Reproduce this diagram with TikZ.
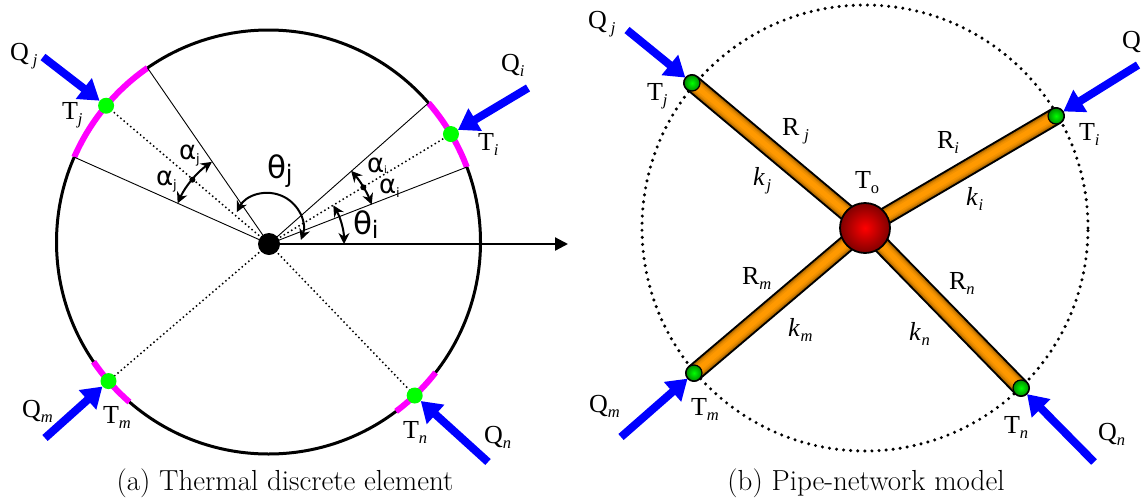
\documentclass[tikz,border=0pt]{standalone}
\usepackage{fontspec}
\usetikzlibrary{arrows.meta,calc}
\newfontfamily\timesf{Liberation Serif}
\newfontfamily\sansf{DejaVu Sans}
\definecolor{pipeorange}{RGB}{255,153,0}
\definecolor{magarccol}{RGB}{255,0,255}
\definecolor{gdotcol}{RGB}{0,255,0}
\newcommand\lab[3][0pt]{{\timesf\fontsize{26}{26}\selectfont #2\hspace{#1}\raisebox{-5pt}{\fontsize{16.5}{16.5}\selectfont\itshape #3}}}
\newcommand\labup[2]{{\timesf\fontsize{26}{26}\selectfont #1\raisebox{-5pt}{\fontsize{16.5}{16.5}\selectfont #2}}}
\newcommand\klab[3][1pt]{{\timesf\fontsize{26}{26}\selectfont\itshape #2\hspace{#1}\raisebox{-5pt}{\fontsize{16.5}{16.5}\selectfont #3}}}
\newcommand\glab[3]{{\sansf\fontsize{#1}{#1}\selectfont #2\raisebox{-4pt}{\fontsize{#3}{#3}\selectfont j}}}
\newcommand\gilab[4][-4pt]{{\sansf\fontsize{#2}{#2}\selectfont #3\raisebox{#1}{\fontsize{#4}{#4}\selectfont i}}}
\newcommand\pipe[2]{%
  \draw[line width=18pt,black,line cap=round] (#1) -- (#2);
  \foreach \w/\c in {14/pipeorange!70!black,12/pipeorange!80!black,10/pipeorange!90!black,8/pipeorange!95!black,5/pipeorange} {
    \draw[line width=\w pt,\c] (#1) -- (#2);
  }%
}
\tikzset{
  x=1pt,y=1pt,
  lbl/.style={anchor=base west,inner sep=0pt,outer sep=0pt,text=black},
  heatflow/.style={blue,line width=8pt,-{Triangle[length=20pt,width=25pt]}},
  rim/.style={black,line width=3pt},
  magarc/.style={magarccol,line width=6pt},
  fine/.style={black,line width=0.9pt},
  spoke/.style={black,line width=1.5pt,dash pattern=on 1.5pt off 2.8pt},
  ringdots/.style={black,line width=3.4pt,line cap=round,dash pattern=on 0pt off 7.1pt},
  axisline/.style={black,line width=2.2pt,-{Triangle[length=13pt,width=13pt]}},
  anglearc/.style={black,line width=2pt,{Stealth[length=11pt,width=11pt]}-{Stealth[length=11pt,width=11pt]}},
  gdot/.style={circle,fill=gdotcol,inner sep=0pt,minimum size=16pt},
  gball/.style={circle,draw=black,line width=1.2pt,inner sep=0pt,minimum size=16pt,shading=radial,inner color=gdotcol,outer color=gdotcol!55!black},
  rball/.style={circle,draw=black,line width=1.8pt,inner sep=0pt,minimum size=50pt,shading=radial,inner color=red,outer color=red!50!black},
  smalldot/.style={circle,fill=black,inner sep=0pt,minimum size=6pt},
  captext/.style={anchor=base,inner sep=0pt,font=\fontsize{29}{29}\selectfont}
}
\begin{document}
\begin{tikzpicture}
\useasboundingbox (0,0) rectangle (1142,-501);
% ---------- left panel
\coordinate (cc) at (268.5,-242);
\coordinate (oc) at (269,-244);
\coordinate (axisend) at (568,-244);
\draw[rim] (cc) circle[radius=212];
\foreach \nm/\a/\b/\g in {j/124.8/156.4/140, i/41/20.7/30.6, m/214.4/229/221, n/-38/-53/-46.4} {
  \coordinate (a\nm) at ($(cc)+(\a:212)$);
  \coordinate (b\nm) at ($(cc)+(\b:212)$);
  \coordinate (g\nm) at ($(cc)+(\g:212)$);
  \draw[magarc] (a\nm) arc[start angle=\a,end angle=\b,radius=212];
}
\draw[fine] (oc) -- (aj);
\draw[fine] (oc) -- (bj);
\draw[fine] (oc) -- (ai);
\draw[fine] (oc) -- (bi);
\foreach \nm in {j,i,m,n} { \draw[spoke] (oc) -- (g\nm); }
\foreach \nm in {j,i,m,n} { \node[gdot] (tl\nm) at (g\nm) {}; }
\draw[axisline] (oc) -- (axisend);
\node[circle,fill=black,inner sep=0pt,minimum size=22pt] (o) at (oc) {};
% angle arcs
\coordinate (arcJ) at ($(oc)+(124.8:100)$);
\draw[anglearc] (arcJ) arc[start angle=124.8,end angle=156,radius=100];
\node[smalldot] (dj) at ($(oc)+(140:100)$) {};
\coordinate (arcI) at ($(oc)+(41.7:110)$);
\draw[anglearc] (arcI) arc[start angle=41.7,end angle=21,radius=110];
\node[smalldot] (di) at ($(oc)+(31:110)$) {};
\coordinate (arcTi) at ($(oc)+(31:75)$);
\draw[anglearc] (arcTi) arc[start angle=31,end angle=0,radius=75];
\coordinate (tjc) at (268,-228);
\coordinate (arcTj) at ($(tjc)+(153:35)$);
\draw[anglearc] (arcTj) arc[start angle=153,end angle=-20,radius=35];
% heat arrows left
\coordinate (qlj) at (43,-57);
\coordinate (qli) at (528,-88);
\coordinate (qlm) at (45,-438);
\coordinate (qln) at (488,-462);
\draw[heatflow] (qlj) -- (tlj);
\draw[heatflow] (qli) -- (tli);
\draw[heatflow] (qlm) -- (tlm);
\draw[heatflow] (qln) -- (tln);
% labels left
\node[lbl] (l1) at (10,-60) {\lab[4pt]{Q}{j}};
\node[lbl] (l2) at (62,-119) {\lab{T}{j}};
\node[lbl] (l3) at (501,-71) {\lab{Q}{i}};
\node[lbl] (l4) at (478,-150) {\lab{T}{i}};
\node[lbl] (l5) at (22,-417) {\lab{Q}{m}};
\node[lbl] (l6) at (103,-423) {\lab{T}{m}};
\node[lbl] (l7) at (403,-438) {\lab{T}{n}};
\node[lbl] (l8) at (484,-443) {\lab{Q}{n}};
\node[lbl] (l9) at (179,-159) {\glab{26}{α}{13}};
\node[lbl] (l10) at (156,-185) {\glab{26}{α}{13}};
\node[lbl] (l11) at (367,-172) {\gilab[-1pt]{26}{α}{10}};
\node[lbl] (l12) at (379,-193) {\gilab{26}{α}{13}};
\node[lbl] (l13) at (267,-178) {\glab{31}{θ}{24}};
\node[lbl] (l14) at (353,-234) {\gilab{31}{θ}{24}};
\node[captext] (cap1) at (285,-490) {(a) Thermal discrete element};
% ---------- right panel
\coordinate (pc) at (865,-228);
\coordinate (pj) at (692,-83);
\coordinate (pi) at (1056,-116);
\coordinate (pm) at (694,-373);
\coordinate (pn) at (1021,-388);
\draw[ringdots] (pc) circle[radius=223];
\pipe{pc}{pj}
\pipe{pc}{pi}
\pipe{pc}{pm}
\pipe{pc}{pn}
\node[rball] (to) at (pc) {};
\node[gball] (trj) at (pj) {};
\node[gball] (tri) at (pi) {};
\node[gball] (trm) at (pm) {};
\node[gball] (trn) at (pn) {};
\coordinate (qrj) at (627,-30);
\coordinate (qri) at (1138,-65);
\coordinate (qrm) at (621,-437);
\coordinate (qrn) at (1094,-462);
\draw[heatflow] (qrj) -- (trj);
\draw[heatflow] (qri) -- (tri);
\draw[heatflow] (qrm) -- (trm);
\draw[heatflow] (qrn) -- (trn);
\node[lbl] (r1) at (588,-28) {\lab[4pt]{Q}{j}};
\node[lbl] (r2) at (647,-100) {\lab{T}{j}};
\node[lbl] (r3) at (782,-135) {\lab[5pt]{R}{j}};
\node[lbl] (r4) at (753,-185) {\klab[2pt]{k}{j}};
\node[lbl] (r5) at (855,-188) {\labup{T}{o}};
\node[lbl] (r6) at (937,-148) {\lab{R}{i}};
\node[lbl] (r7) at (966,-205) {\klab{k}{i}};
\node[lbl] (r8) at (1079,-140) {\lab{T}{i}};
\node[lbl] (r9) at (1122,-48) {\lab{Q}{}};
\node[lbl] (r10) at (742,-284) {\lab{R}{m}};
\node[lbl] (r11) at (949,-289) {\lab{R}{n}};
\node[lbl] (r12) at (788,-336) {\klab{k}{m}};
\node[lbl] (r13) at (909,-340) {\klab{k}{n}};
\node[lbl] (r14) at (691,-415) {\lab{T}{m}};
\node[lbl] (r15) at (1004,-433) {\lab{T}{n}};
\node[lbl] (r16) at (589,-412) {\lab{Q}{m}};
\node[lbl] (r17) at (1098,-440) {\lab{Q}{n}};
\node[captext] (cap2) at (866,-490) {(b) Pipe-network model};
\end{tikzpicture}
\end{document}
